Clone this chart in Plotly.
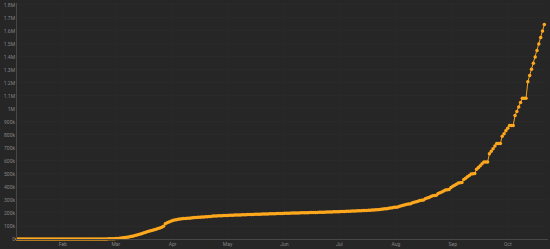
import plotly.graph_objects as go
import pandas as pd

# Daily cumulative values (thousands), 2020-01-07 .. 2020-10-21
jan_vals = [0, 0, 0, 0, 0, 0, 0, 0, 0, 0, 0, 0, 0, 0, 0, 0, 0, 0, 0, 0, 0, 0, 0, 0, 0]
feb_vals = [0, 0, 0, 0, 0, 0, 0, 0, 0, 0, 0, 0, 0, 0, 0, 0, 0, 0.1, 0.1, 0.2, 0.3, 0.4, 0.5,
            0.7, 0.9, 1.1, 1.4, 1.8, 2.3]
mar_vals = [3, 4, 5, 7, 9, 11, 13, 16, 19, 22, 25, 28, 32, 36, 41, 46, 50, 55, 59, 63, 67, 71,
            75, 80, 85, 91, 98, 117, 125, 131, 137]
apr_vals = [142, 146, 149, 151, 153, 155, 157, 158, 159, 160, 162, 163, 165, 166, 167, 168, 169,
            170, 171, 172, 173, 174, 176, 177, 177.5, 178, 179, 179.5, 180, 181]
may_vals = [181.5, 182, 182.5, 183, 184, 184.5, 185, 185.5, 186, 186.5, 187, 187.5, 188, 188.5,
            189, 189.5, 190, 190.5, 191, 191.5, 192, 192.5, 193, 193.5, 194, 194.5, 195, 195.5,
            196, 196.5, 197]
jun_vals = [197.5, 198, 198.3, 198.7, 199, 199.5, 200, 200.3, 200.7, 201, 201.5, 202, 202.3,
            202.7, 203, 203.5, 204, 204.3, 204.7, 205, 205.5, 206, 206.4, 206.8, 207.2, 207.7,
            208.2, 208.7, 209.2, 209.8]
jul_vals = [210.4, 211, 211.6, 212.2, 212.8, 213.4, 214, 214.6, 215.2, 215.8, 216.4, 217, 217.7,
            218.4, 219.1, 219.8, 220.6, 221.4, 222.3, 223.3, 224.4, 225.6, 227, 228.4, 230,
            231.7, 233.5, 235.6, 238, 240.6, 243.5]
aug_vals = [245, 246.5, 252, 256, 260, 264, 268, 270, 272, 279, 283, 287, 291, 296, 298, 300,
            310, 315, 320, 326, 332, 334, 336, 349, 355, 362, 369, 376, 378, 380, 397]
sep_vals = [405, 413, 421, 430, 432, 434, 458, 468, 478, 489, 500, 502, 504, 537, 550, 564, 578,
            593, 593, 593, 655, 675, 695, 715, 735, 735, 735, 790, 810, 832]
oct_vals = [852, 873, 873, 873, 950, 980, 1015, 1050, 1083, 1083, 1083, 1210, 1258, 1305, 1352,
            1400, 1450, 1500, 1550, 1600, 1650]

start_date = "2020-01-07"
month_ticks = ["2020-02-01", "2020-03-01", "2020-04-01", "2020-05-01", "2020-06-01",
               "2020-07-01", "2020-08-01", "2020-09-01", "2020-10-01"]
month_labels = ["Feb", "Mar", "Apr", "May", "Jun", "Jul", "Aug", "Sep", "Oct"]
y_ticks = [i * 100000 for i in range(19)]
y_labels = ["0", "100k", "200k", "300k", "400k", "500k", "600k", "700k", "800k", "900k",
            "1M", "1.1M", "1.2M", "1.3M", "1.4M", "1.5M", "1.6M", "1.7M", "1.8M"]

vals = jan_vals + feb_vals + mar_vals + apr_vals + may_vals + jun_vals + jul_vals + aug_vals + sep_vals + oct_vals
dates = pd.date_range(start_date, periods=len(vals), freq="D")
y = [v * 1000 for v in vals]

fig = go.Figure()
fig.add_trace(go.Scatter(
    x=dates, y=y, mode="lines+markers",
    line=dict(color="#f7a21b", width=1),
    marker=dict(color="#ffa81e", size=3.5, line=dict(width=0)),
    cliponaxis=False,
))

bg = "#262626"
fig.update_layout(
    width=550, height=249,
    margin=dict(l=17, r=2, t=3, b=10),
    paper_bgcolor=bg, plot_bgcolor=bg,
    showlegend=False,
    font=dict(family="Roboto", color="#858585", size=5),
)
fig.update_xaxes(
    range=["2020-01-07", "2020-10-23"],
    tickvals=month_ticks, ticktext=month_labels,
    showgrid=True, gridcolor="#292929", gridwidth=1,
    showline=True, linecolor="#474747", linewidth=1,
    zeroline=False, ticks="", ticklen=0,
    tickfont=dict(size=5, color="#858585"),
)
fig.update_yaxes(
    range=[0, 1815000],
    tickvals=y_ticks, ticktext=y_labels,
    showgrid=True, gridcolor="#292929", gridwidth=1,
    showline=True, linecolor="#474747", linewidth=1,
    zeroline=False, ticks="", ticklen=0,
    tickfont=dict(size=5, color="#858585"),
)

fig.write_html("out.html")
